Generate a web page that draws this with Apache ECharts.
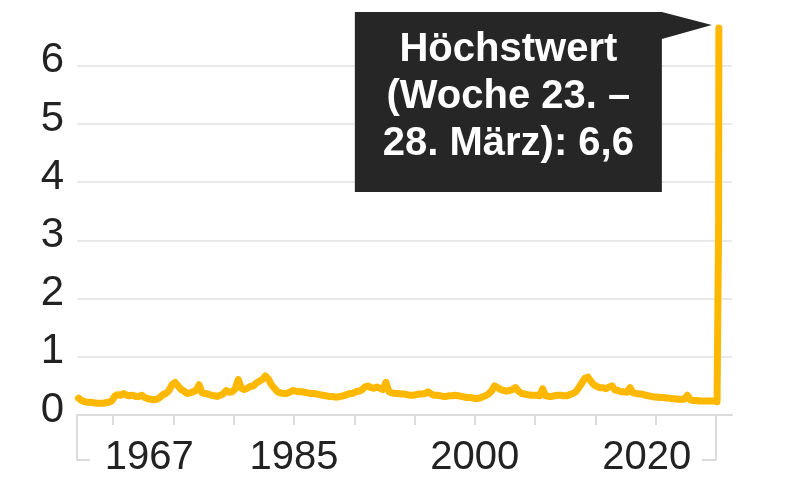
<!DOCTYPE html>
<html>
<head>
<meta charset="utf-8">
<script src="https://cdn.jsdelivr.net/npm/echarts@6/dist/echarts.min.js"></script>
<style>
html,body{margin:0;padding:0;background:#fff;}
#chart{width:800px;height:486px;}
</style>
</head>
<body>
<div id="chart"></div>
<script>
// Weekly initial jobless claims (US), in millions
const startYear = 1967;
// quarterly levels, 1967 Q1 .. 2019 Q4
const quarterlyValues = [
  0.29,0.25,0.23,0.22, 0.22,0.21,0.20,0.20, 0.20,0.21,0.22,0.24, 0.32,0.35,0.34,0.37,
  0.34,0.33,0.34,0.32, 0.32,0.34,0.30,0.28, 0.27,0.26,0.27,0.30, 0.35,0.37,0.42,0.52,
  0.56,0.50,0.44,0.41, 0.37,0.38,0.40,0.42, 0.52,0.38,0.37,0.36, 0.34,0.33,0.32,0.34,
  0.36,0.42,0.39,0.40, 0.45,0.61,0.46,0.44, 0.46,0.49,0.50,0.55, 0.58,0.61,0.67,0.62,
  0.52,0.46,0.40,0.38, 0.37,0.37,0.39,0.42, 0.41,0.40,0.40,0.39, 0.38,0.37,0.37,0.36,
  0.35,0.34,0.33,0.32, 0.32,0.31,0.31,0.32, 0.33,0.35,0.37,0.37, 0.40,0.41,0.43,0.48,
  0.50,0.47,0.46,0.48, 0.46,0.44,0.56,0.40, 0.38,0.37,0.37,0.36, 0.36,0.35,0.34,0.34,
  0.35,0.36,0.36,0.37, 0.40,0.36,0.34,0.34, 0.33,0.32,0.32,0.33, 0.33,0.34,0.33,0.32,
  0.31,0.30,0.30,0.29, 0.28,0.29,0.31,0.33, 0.36,0.41,0.50,0.47, 0.44,0.42,0.41,0.42,
  0.44,0.47,0.41,0.37, 0.36,0.35,0.34,0.34, 0.34,0.33,0.45,0.33, 0.32,0.32,0.33,0.34,
  0.34,0.33,0.33,0.35, 0.37,0.40,0.47,0.55, 0.63,0.65,0.58,0.52, 0.49,0.47,0.47,0.45,
  0.48,0.50,0.43,0.42, 0.40,0.40,0.39,0.47, 0.38,0.37,0.36,0.36, 0.34,0.33,0.32,0.31,
  0.31,0.30,0.30,0.29, 0.29,0.28,0.28,0.27, 0.27,0.27,0.34,0.26, 0.25,0.25,0.24,0.24,
  0.24,0.24,0.24,0.24
];
// 2020 weeks (decimal year) and values
const dates2020 = [2020.01, 2020.09, 2020.18, 2020.20, 2020.22, 2020.24];
const values2020 = [0.23, 0.23, 0.23, 0.26, 3.31, 6.65];

const yTicks = [0, 1, 2, 3, 4, 5, 6];
const xTickYears = [1970, 1975, 1980, 1985, 1990, 1995, 2000, 2005, 2010, 2015, 2020];
const xLabelText = ['1967', '1985', '2000', '2020'];
const xLabelAt = [1973, 1985, 2000, 2014.25];
const annotationLines = ['Höchstwert', '(Woche 23. –', '28. März): 6,6'];

const seriesData = [];
quarterlyValues.forEach((v, i) => seriesData.push([startYear + i / 4 + 0.125, v]));
dates2020.forEach((d, i) => seriesData.push([d, values2020[i]]));

const FONT = '"Liberation Sans", Arial, sans-serif';
const chart = echarts.init(document.getElementById('chart'), null, {renderer: 'canvas'});

chart.setOption({
  animation: false,
  backgroundColor: '#ffffff',
  grid: {left: 77, right: 68, top: 7.6, bottom: 71},
  xAxis: {
    type: 'value',
    min: 1967,
    max: 2021.33,
    axisLine: {show: true, lineStyle: {color: '#dcdcdc', width: 2}},
    axisTick: {show: true, customValues: xTickYears, length: 10, lineStyle: {color: '#dcdcdc', width: 2}},
    axisLabel: {
      customValues: xLabelAt,
      formatter: v => { const i = xLabelAt.indexOf(v); return i >= 0 ? xLabelText[i] : ''; },
      color: '#222', fontSize: 40, fontFamily: FONT, margin: 23
    },
    splitLine: {show: false}
  },
  yAxis: {
    type: 'value',
    min: 0,
    max: 7,
    interval: 1,
    axisLine: {show: false},
    axisTick: {show: false},
    axisLabel: {
      color: '#222', fontSize: 42, fontFamily: FONT, margin: 13,
      showMaxLabel: false,
      formatter: v => (yTicks.indexOf(v) >= 0 ? String(v) : ''),
      verticalAlign: 'bottom',
      lineHeight: 10
    },
    splitLine: {show: true, showMaxLine: false, lineStyle: {color: '#e2e2e2', width: 1.5}}
  },
  series: [{
    type: 'line',
    data: seriesData,
    showSymbol: false,
    symbol: 'none',
    smooth: false,
    lineStyle: {color: '#FFB800', width: 7, cap: 'round', join: 'round'},
    z: 5
  }]
});

function placeGraphics() {
  const peakIdx = values2020.length - 1;
  const peak = chart.convertToPixel({gridIndex: 0}, [dates2020[peakIdx], values2020[peakIdx]]);
  const base0 = chart.convertToPixel({gridIndex: 0}, [1967, 0]);
  const base1 = chart.convertToPixel({gridIndex: 0}, [2020, 0]);
  const tipX = peak[0] - 7, tipY = peak[1] - 3;
  const boxR = tipX - 50, boxL = boxR - 307, boxT = tipY - 13, boxB = boxT + 180;
  const bY = base0[1] + 45;
  chart.setOption({
    graphic: [
      {type: 'polyline', shape: {points: [[base0[0], base0[1]], [base0[0], bY], [base0[0] + 13, bY]]},
       style: {stroke: '#dcdcdc', lineWidth: 2, fill: null}, z: 1},
      {type: 'polyline', shape: {points: [[base1[0], base1[1]], [base1[0], bY], [base1[0] - 14, bY]]},
       style: {stroke: '#dcdcdc', lineWidth: 2, fill: null}, z: 1},
      {type: 'polygon', shape: {points: [[boxL, boxT], [boxR, boxT], [tipX, tipY], [boxR, boxT + 27], [boxR, boxB], [boxL, boxB]]},
       style: {fill: '#262626'}, z: 10},
      {type: 'text', x: (boxL + boxR) / 2, y: boxT + 85, z: 11,
       style: {text: annotationLines.join('\n'), fill: '#ffffff', font: 'bold 40px ' + FONT,
               align: 'center', verticalAlign: 'middle', lineHeight: 47}}
    ]
  });
}
placeGraphics();
</script>
</body>
</html>
